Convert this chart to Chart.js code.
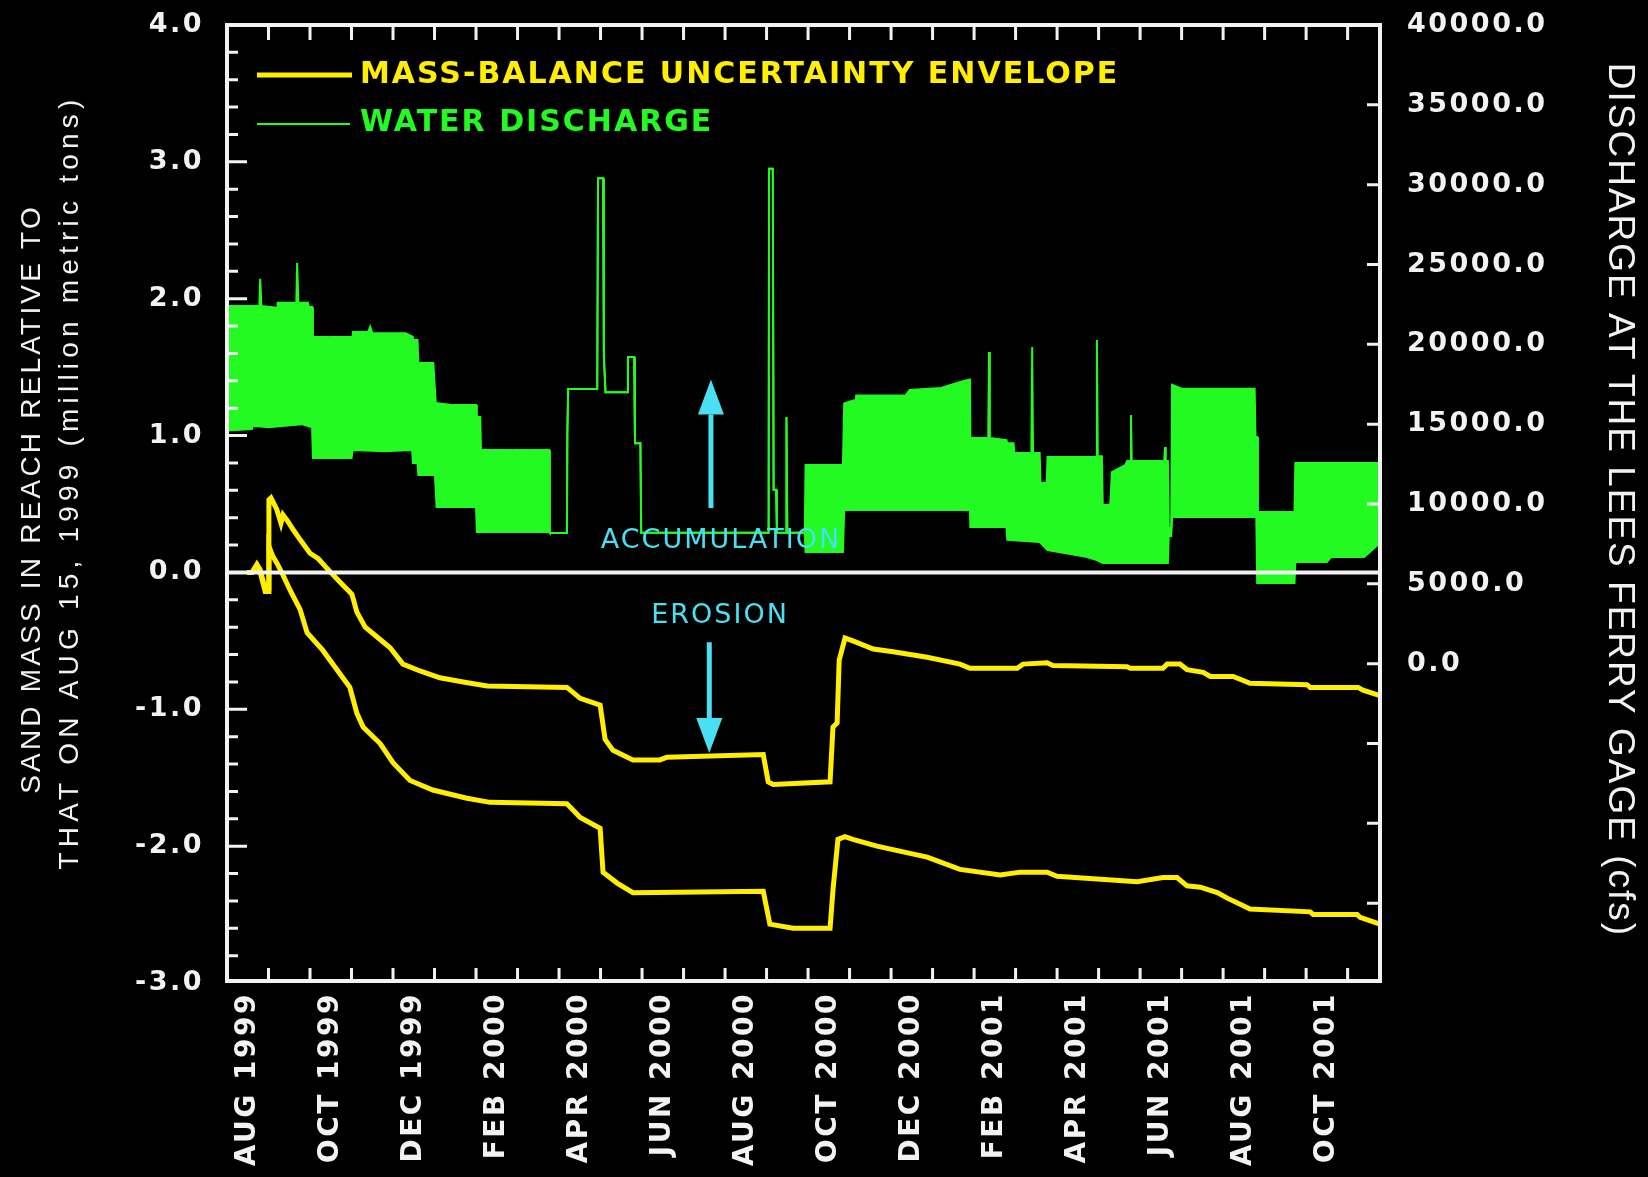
<!DOCTYPE html>
<html>
<head>
<meta charset="utf-8">
<script src="https://cdn.jsdelivr.net/npm/chart.js@4.4.1/dist/chart.umd.min.js"></script>
<style>
html,body{margin:0;padding:0;background:#000;}
#wrap{width:1648px;height:1177px;position:relative;}
</style>
</head>
<body>
<div id="wrap"><canvas id="c" width="1648" height="1177"></canvas></div>
<script>
// ---------- DATA (x = months since 1 Aug 1999) ----------
const monthLabelPos = [0.5, 2.5, 4.5, 6.5, 8.5, 10.5, 12.5, 14.5, 16.5, 18.5, 20.5, 22.5, 24.5, 26.5];
const monthLabels = ['AUG 1999', 'OCT 1999', 'DEC 1999', 'FEB 2000', 'APR 2000', 'JUN 2000', 'AUG 2000',
                     'OCT 2000', 'DEC 2000', 'FEB 2001', 'APR 2001', 'JUN 2001', 'AUG 2001', 'OCT 2001'];
const sandTicks = [-3, -2, -1, 0, 1, 2, 3, 4];
const flowTicks = [0, 5000, 10000, 15000, 20000, 25000, 30000, 35000, 40000];

// Sand mass envelope, upper bound (million metric tons)
const sandUpperMonth = [0.48, 0.60, 0.72, 0.80, 0.92, 0.99, 1.01, 1.06, 1.20, 1.30, 1.35, 1.45, 1.60, 1.76, 2.00, 2.20, 2.41, 2.72,
  3.01, 3.13, 3.33, 3.61, 3.93, 4.24, 4.65, 5.13, 5.69, 6.27, 8.19, 8.51, 8.99, 9.11, 9.30, 9.78, 10.43, 10.60, 12.92, 13.04, 13.16,
  14.53, 14.60, 14.70, 14.75, 14.89, 15.08, 15.57, 16.05, 16.87, 17.66, 17.90, 19.04, 19.18, 19.76, 19.90, 21.69, 21.76, 22.55,
  22.65, 22.96, 23.13, 23.52, 23.69, 24.24, 24.65, 26.02, 26.10, 27.25, 27.37, 27.78];
const sandUpperMt = [0.00, 0.00, 0.06, 0.02, -0.12, -0.12, 0.53, 0.545, 0.46, 0.36, 0.42, 0.38, 0.31, 0.24, 0.14, 0.10, 0.03, -0.07,
  -0.16, -0.29, -0.40, -0.47, -0.55, -0.67, -0.72, -0.77, -0.80, -0.83, -0.84, -0.92, -0.97, -1.22, -1.30, -1.37, -1.37, -1.35, -1.33, -1.53, -1.55,
  -1.53, -1.13, -1.10, -0.64, -0.48, -0.50, -0.56, -0.58, -0.62, -0.67, -0.70, -0.70, -0.67, -0.66, -0.68, -0.69, -0.70, -0.70,
  -0.67, -0.67, -0.71, -0.73, -0.76, -0.76, -0.81, -0.82, -0.84, -0.84, -0.86, -0.90];

// Sand mass envelope, lower bound (million metric tons)
const sandLowerMonth = [0.48, 0.60, 0.72, 0.80, 0.92, 0.99, 1.01, 1.10, 1.20, 1.35, 1.52, 1.76, 1.93, 2.31, 2.72, 2.96, 3.13, 3.28,
  3.69, 4.00, 4.41, 4.96, 5.78, 6.34, 8.19, 8.51, 8.99, 9.06, 9.40, 9.78, 12.92, 13.08, 13.64, 14.53, 14.60, 14.72, 14.89, 15.08,
  15.66, 16.87, 17.66, 18.63, 19.11, 19.76, 20.00, 20.96, 21.93, 22.55, 22.89, 23.13, 23.45, 23.86, 24.10, 24.65, 26.10, 26.17,
  27.23, 27.30, 27.78];
const sandLowerMt = [0.00, 0.00, 0.05, 0.00, -0.14, -0.14, 0.19, 0.12, 0.07, -0.02, -0.13, -0.27, -0.44, -0.57, -0.74, -0.84, -1.03, -1.13,
  -1.25, -1.39, -1.52, -1.59, -1.65, -1.68, -1.69, -1.79, -1.87, -2.19, -2.27, -2.34, -2.33, -2.57, -2.60, -2.60, -2.32, -1.95, -1.93, -1.95,
  -2.00, -2.08, -2.17, -2.21, -2.19, -2.19, -2.22, -2.24, -2.26, -2.23, -2.23, -2.29, -2.30, -2.34, -2.38, -2.46, -2.48, -2.50,
  -2.50, -2.52, -2.57];

// Water discharge, daily high envelope (cfs)
const flowHighMonth = [0.00, 0.78, 0.80, 0.83, 1.18, 1.20, 1.22, 1.67, 1.69, 1.72, 1.95, 1.97, 2.05, 2.07, 2.45, 2.47, 2.50, 2.98,
  3.00, 3.03, 3.40, 3.45, 3.50, 4.30, 4.46, 4.48, 4.59, 4.61, 4.97, 5.03, 5.40, 5.42, 5.45, 6.00, 6.02, 6.10, 6.12, 6.35, 6.37, 6.40,
  6.85, 6.87, 6.90, 7.26, 7.28, 7.31, 7.76, 7.78, 8.19, 8.20, 8.22, 8.92, 8.94, 9.06, 9.08, 9.12, 9.64, 9.66, 9.81, 9.83, 9.96, 9.98,
  13.05, 13.06, 13.15, 13.17, 13.23, 13.25, 13.47, 13.48, 13.50, 13.92, 13.94, 14.12, 14.14, 14.17, 14.84, 14.87, 15.10, 15.13,
  15.16, 16.35, 16.45, 17.20, 17.75, 17.90, 17.91, 18.34, 18.36, 18.38, 18.78, 18.80, 18.95, 18.97, 19.38, 19.40, 19.42, 19.58,
  19.60, 19.75, 19.77, 20.94, 20.96, 20.98, 21.08, 21.10, 21.28, 21.32, 21.64, 21.69, 21.76, 21.78, 21.80, 22.58, 22.60, 22.62,
  22.67, 22.69, 22.75, 22.77, 23.00, 24.76, 24.78, 24.82, 24.84, 25.72, 25.74, 27.78];
const flowHighCfs = [22400, 22400, 24100, 22400, 22300, 15450, 22600, 22600, 25100, 22600, 22600, 22340, 22340, 20460, 20460, 19900, 20460, 20460,
  18830, 20770, 20770, 21100, 20700, 20700, 20500, 20270, 20270, 18830, 18830, 16330, 16200, 15500, 16200, 16200, 15450, 15450, 13380, 13380, 12300, 13380,
  13380, 12500, 13380, 13380, 12300, 13380, 13380, 8180, 8180, 14450, 17200, 17200, 30400, 30400, 19200, 17000, 17000, 19200, 19200, 13800, 13800, 8200,
  8200, 31000, 31000, 10900, 10900, 8200, 8200, 15450, 8200, 8200, 12450, 12450, 11000, 12450, 12450, 16300, 16500, 15800,
  16800, 16800, 17140, 17270, 17700, 17800, 14130, 14130, 19520, 14130, 14000, 13800, 13800, 13200, 13200, 19830, 13200, 13200,
  11320, 11320, 12950, 12950, 20270, 12990, 12990, 9940, 9940, 12000, 12440, 12690, 12690, 15570, 12690, 12690, 13570, 12690,
  12690, 8500, 8500, 17470, 17220, 17220, 14200, 14200, 9500, 9500, 12570, 12570];

// Water discharge, daily low envelope (cfs)
const flowLowMonth = [0.00, 0.60, 0.62, 1.00, 1.80, 2.05, 2.07, 3.00, 3.03, 3.80, 4.46, 4.48, 4.59, 4.61, 5.01, 5.05, 6.00, 6.02,
  7.76, 7.78, 8.19, 8.20, 8.22, 8.92, 8.94, 9.06, 9.08, 9.12, 9.64, 9.66, 9.81, 9.83, 9.96, 9.98, 13.05, 13.06, 13.15, 13.17, 13.23,
  13.25, 13.47, 13.48, 13.50, 13.92, 13.94, 14.84, 14.87, 17.90, 17.91, 18.78, 18.80, 19.58, 19.77, 20.70, 20.96, 21.10, 22.67,
  22.69, 22.75, 22.77, 24.80, 24.82, 25.72, 25.74, 26.50, 26.60, 27.40, 27.78];
const flowLowCfs = [14600, 14700, 14900, 14800, 15000, 14800, 12880, 12880, 13380, 13300, 13380, 12570, 12570, 11820, 11820, 9810, 9810, 8250,
  8250, 8180, 8180, 14450, 17200, 17200, 30400, 30400, 19200, 17000, 17000, 19200, 19200, 13800, 13800, 8200, 8200, 31000, 31000, 10900, 10900,
  8200, 8200, 15450, 8200, 8200, 7000, 7000, 9620, 9620, 8560, 8560, 7750, 7620, 7120, 6700, 6490, 6300, 6300,
  8000, 8000, 9180, 9180, 5050, 5050, 6370, 6370, 6680, 6680, 7560];

// Annotations (month, value on sand-mass axis)
const noteTexts = ['ACCUMULATION', 'EROSION'];
const noteMonth = [11.90, 11.88];
const noteValue = [0.23, -0.32];
const arrowMonth = [11.66, 11.62];
const arrowFrom = [0.47, -0.51];
const arrowTo = [1.41, -1.32];

// ---------- STYLE ----------
const WHITE = '#f2f2f2', YELLOW = '#ffee00', GREEN = '#22fa22', CYAN = '#48e0f2';
const pts = (xs, ys) => xs.map((x, i) => ({x: x, y: ys[i]}));

const overlay = {
  id: 'overlay',
  beforeDraw(c) {
    const g = c.ctx;
    g.save(); g.fillStyle = '#000'; g.fillRect(0, 0, c.width, c.height); g.restore();
    g.letterSpacing = '2.5px';
  },
  afterDraw(c) {
    const g = c.ctx, a = c.chartArea, X = c.scales.x, L = c.scales.y, R = c.scales.yQ;
    const fb = a.bottom - 2;
    g.save();
    g.letterSpacing = '0px';
    g.strokeStyle = WHITE;
    // zero line
    g.lineWidth = 4;
    const y0 = L.getPixelForValue(0);
    g.beginPath(); g.moveTo(a.left, y0); g.lineTo(a.right, y0); g.stroke();
    // frame
    g.strokeRect(a.left, a.top, a.right - a.left, fb - a.top);
    // tick marks
    g.lineWidth = 3;
    g.beginPath();
    for (let m = 1; m < X.max; m++) {
      const px = X.getPixelForValue(m);
      g.moveTo(px, fb); g.lineTo(px, fb - 13);
      g.moveTo(px, a.top); g.lineTo(px, a.top + 15);
    }
    for (let k = -14; k < 20; k++) {
      const py = L.getPixelForValue(k / 5);
      const len = (k % 5 === 0) ? 20 : 11;
      g.moveTo(a.left, py); g.lineTo(a.left + len, py);
    }
    for (let v = -15000; v < 40000; v += 5000) {
      const py = R.getPixelForValue(v);
      g.moveTo(a.right, py); g.lineTo(a.right - 13, py);
    }
    g.stroke();

    // legend
    const ds = c.data.datasets;
    g.lineWidth = 5; g.strokeStyle = YELLOW;
    g.beginPath(); g.moveTo(a.left + 30, a.top + 50); g.lineTo(a.left + 125, a.top + 50); g.stroke();
    g.lineWidth = 2; g.strokeStyle = GREEN;
    g.beginPath(); g.moveTo(a.left + 30, a.top + 99); g.lineTo(a.left + 123, a.top + 99); g.stroke();
    g.font = 'bold 30px "DejaVu Sans"';
    g.letterSpacing = '2px';
    g.textAlign = 'left'; g.textBaseline = 'middle';
    g.fillStyle = YELLOW; g.fillText(ds[0].label, a.left + 133, a.top + 50);
    g.fillStyle = GREEN; g.fillText(ds[2].label, a.left + 133, a.top + 98);

    // annotations
    g.fillStyle = CYAN; g.strokeStyle = CYAN;
    g.font = '27px "DejaVu Sans"';
    g.textAlign = 'center';
    for (let i = 0; i < noteTexts.length; i++) {
      g.fillText(noteTexts[i], X.getPixelForValue(noteMonth[i]), L.getPixelForValue(noteValue[i]));
    }
    for (let i = 0; i < arrowMonth.length; i++) {
      const px = X.getPixelForValue(arrowMonth[i]);
      const p0 = L.getPixelForValue(arrowFrom[i]);
      const p1 = L.getPixelForValue(arrowTo[i]);
      const dir = p1 < p0 ? -1 : 1;
      const base = p1 - dir * 35;
      g.lineWidth = 5;
      g.beginPath(); g.moveTo(px, p0); g.lineTo(px, base); g.stroke();
      g.beginPath(); g.moveTo(px - 13, base); g.lineTo(px + 13, base); g.lineTo(px, p1); g.closePath(); g.fill();
    }

    // axis titles
    g.fillStyle = WHITE;
    g.textAlign = 'center'; g.textBaseline = 'middle';
    g.font = '28px "Liberation Sans"';
    g.save(); g.translate(32, 499); g.rotate(-Math.PI / 2);
    g.letterSpacing = '3.2px';
    g.fillText('SAND MASS IN REACH RELATIVE TO', 0, 0);
    g.restore();
    g.save(); g.translate(70, 482); g.rotate(-Math.PI / 2);
    g.letterSpacing = '5.2px';
    g.fillText('THAT ON AUG 15, 1999 (million metric tons)', 0, 0);
    g.restore();
    g.font = '37px "Liberation Sans"';
    g.save(); g.translate(1619, 500); g.rotate(Math.PI / 2);
    g.letterSpacing = '2px';
    g.fillText('DISCHARGE AT THE LEES FERRY GAGE (cfs)', 0, 0);
    g.restore();
    g.restore();
  }
};

const tickFont = {family: 'DejaVu Sans', size: 27, weight: 'bold'};
const noPad = s => { s.paddingTop = 0; s.paddingBottom = 0; s.paddingLeft = 0; s.paddingRight = 0; };

new Chart(document.getElementById('c'), {
  type: 'line',
  data: {
    datasets: [
      {label: 'MASS-BALANCE UNCERTAINTY ENVELOPE', data: pts(sandUpperMonth, sandUpperMt), yAxisID: 'y',
       borderColor: YELLOW, borderWidth: 5, pointRadius: 0, fill: false, tension: 0},
      {label: 'MASS-BALANCE UNCERTAINTY ENVELOPE (lower)', data: pts(sandLowerMonth, sandLowerMt), yAxisID: 'y',
       borderColor: YELLOW, borderWidth: 5, pointRadius: 0, fill: false, tension: 0},
      {label: 'WATER DISCHARGE', data: pts(flowHighMonth, flowHighCfs), yAxisID: 'yQ',
       borderColor: GREEN, backgroundColor: GREEN, borderWidth: 2, pointRadius: 0, fill: '+1', tension: 0},
      {label: 'WATER DISCHARGE (low)', data: pts(flowLowMonth, flowLowCfs), yAxisID: 'yQ',
       borderColor: GREEN, borderWidth: 2, pointRadius: 0, fill: false, tension: 0}
    ]
  },
  options: {
    responsive: false,
    animation: false,
    events: [],
    layout: {padding: {top: 25, left: 0, right: 0, bottom: 0}},
    plugins: {legend: {display: false}, tooltip: {enabled: false}, title: {display: false}},
    scales: {
      x: {
        type: 'linear', position: 'bottom', min: 0, max: 27.78,
        grid: {display: false, drawTicks: false}, border: {display: false},
        afterBuildTicks: s => { s.ticks = monthLabelPos.map(v => ({value: v})); },
        afterFit: s => { s.height = 194; noPad(s); },
        ticks: {autoSkip: false, minRotation: 90, maxRotation: 90, padding: 9, color: WHITE,
                font: {family: 'DejaVu Sans', size: 28, weight: 'bold'},
                callback: (v, i) => monthLabels[i]}
      },
      y: {
        type: 'linear', position: 'left', min: -3, max: 4,
        grid: {display: false, drawTicks: false}, border: {display: false},
        afterBuildTicks: s => { s.ticks = sandTicks.map(v => ({value: v})); },
        afterFit: s => { s.width = 227; noPad(s); },
        ticks: {padding: 23, color: WHITE, font: tickFont, callback: v => Number(v).toFixed(1)}
      },
      yQ: {
        type: 'linear', position: 'right', min: -20000, max: 40000,
        grid: {display: false, drawTicks: false}, border: {display: false},
        afterBuildTicks: s => { s.ticks = flowTicks.map(v => ({value: v})); },
        afterFit: s => { s.width = 268; noPad(s); },
        ticks: {padding: 27, color: WHITE, font: tickFont, callback: v => Number(v).toFixed(1)}
      }
    }
  },
  plugins: [overlay]
});
</script>
</body>
</html>
